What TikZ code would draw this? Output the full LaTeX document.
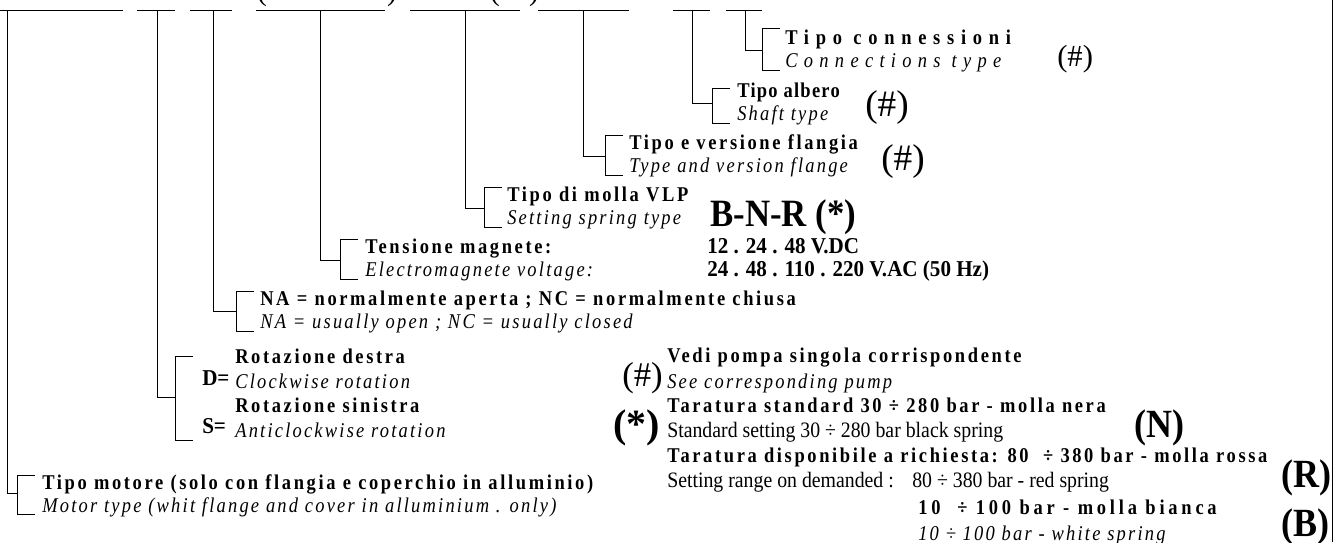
\documentclass[tikz,border=0pt]{standalone}
\usepackage{fontspec}
\setmainfont{Liberation Serif}
\newfontfamily\fsp{Liberation Serif}[LetterSpace=12.5,FakeStretch=0.88]
\newfontfamily\fspw{Liberation Serif}[LetterSpace=32,FakeStretch=0.88]
\newfontfamily\fspn{Liberation Serif}[LetterSpace=6,FakeStretch=0.88]
\newfontfamily\fspm{Liberation Serif}[LetterSpace=18,FakeStretch=0.88]
\newfontfamily\fit{Liberation Serif}[LetterSpace=10.5,FakeStretch=0.88]
\newfontfamily\fitw{Liberation Serif}[LetterSpace=30,FakeStretch=0.88]
\newfontfamily\fcn{Liberation Serif}[FakeStretch=0.9]
\newfontfamily\fvl{Liberation Serif}[FakeStretch=0.93]
\newcommand{\brk}[5]{%
  \draw[ln] (#1,11) |- (#2,#5);
  \draw[ln] (#2+18,#3) -- (#2,#3) -- (#2,#4) -- (#2+18,#4);}
\tikzset{
  ln/.style={draw=black,line width=0.75pt},
  bt/.style={inner sep=0pt,anchor=base west,font=\fsp\bfseries\fontsize{15.75}{18}\selectfont},
  it/.style={inner sep=0pt,anchor=base west,font=\fit\itshape\fontsize{15.75}{18}\selectfont},
  rt/.style={inner sep=0pt,anchor=base west,font=\fcn\fontsize{16.5}{18}\selectfont},
  vt/.style={inner sep=0pt,anchor=base west,font=\fvl\bfseries\fontsize{17}{19}\selectfont},
  hs/.style={inner sep=0pt,anchor=west,font=\fontsize{26}{28}\selectfont},
  bg/.style={inner sep=0pt,anchor=west,font=\fcn\bfseries\fontsize{30}{32}\selectfont},
  tp/.style={inner sep=0pt,anchor=base,font=\fontsize{22}{24}\selectfont},
}
\begin{document}
\begin{tikzpicture}[x=0.75pt,y=-0.75pt]
\useasboundingbox (0,0) rectangle (1344,542);
% top code line
\foreach \a/\b in {0/123,137/175,190/232,256/385,410/520,538/629,673/710,726/762}
  \draw[ln] (\a,11) -- (\b,11);
\begin{scope}
\clip (0,0) rectangle (1344,542);
\node[tp] (p1) at (262,0.5) {(};
\node[tp] (p2) at (392,0.5) {)};
\node[tp] (p3) at (495,0.5) {(};
\node[tp] (p4) at (534,0.5) {)};
\node[it] (w2) at (918,540) {10 ÷ 100 bar - white spring};
\end{scope}
\draw[ln] (1332,0) -- (1332,542);
% brackets
\brk{745}{762}{29}{71}{51}
\brk{692}{712}{88}{123}{103}
\brk{583}{605}{135}{175}{156}
\brk{465}{484}{187}{227}{208}
\brk{320}{340}{239}{279}{260}
\brk{213}{236}{291}{331}{311}
\brk{157}{175}{356}{440}{397}
\brk{7}{17}{475}{514}{493}
% texts
\node[bt,font=\fspw\bfseries\fontsize{15.75}{18}\selectfont] (c1) at (785,45) {Tipo connessioni};
\node[it,font=\fitw\itshape\fontsize{15.75}{18}\selectfont] (c2) at (785,68) {Connections type};
\node[hs,font=\fontsize{23}{25}\selectfont] (c3) at (1057,59) {(\#)};
\node[bt,font=\fspn\bfseries\fontsize{15.75}{18}\selectfont] (a1) at (737,97) {Tipo albero};
\node[it] (a2) at (737,120) {Shaft type};
\node[hs,font=\fontsize{28}{30}\selectfont] (a3) at (865,108) {(\#)};
\node[bt] (f1) at (629,149) {Tipo e versione flangia};
\node[it] (f2) at (629,172) {Type and version flange};
\node[hs,font=\fontsize{28}{30}\selectfont] (f3) at (881,162) {(\#)};
\node[bt] (m1) at (507,201) {Tipo di molla VLP};
\node[it] (m2) at (507,224) {Setting spring type};
\node[vt,font=\fcn\bfseries\fontsize{29}{31}\selectfont] (m3) at (710,226) {B-N-R (*)};
\node[bt] (t1) at (365,253) {Tensione magnete:};
\node[it] (t2) at (365,276) {Electromagnete voltage:};
\node[vt] (t3) at (707,253) {12 . 24 . 48 V.DC};
\node[vt] (t4) at (707,276) {24 . 48 . 110 . 220 V.AC (50 Hz)};
\node[bt] (n1) at (260,305) {NA = normalmente aperta ; NC = normalmente chiusa};
\node[it] (n2) at (260,328) {NA = usually open ; NC = usually closed};
\node[vt] (d0) at (202,385) {D=};
\node[bt] (d1) at (235,363) {Rotazione destra};
\node[it] (d2) at (235,388) {Clockwise rotation};
\node[vt] (s0) at (202,433) {S=};
\node[bt] (s1) at (235,412) {Rotazione sinistra};
\node[it] (s2) at (235,437) {Anticlockwise rotation};
\node[bt] (mo1) at (42,489) {Tipo motore (solo con flangia e coperchio in alluminio)};
\node[it] (mo2) at (42,512) {Motor type (whit flange and cover in alluminium . only)};
% notes
\node[hs] (h0) at (622,378) {(\#)};
\node[bt] (h1) at (667,362) {Vedi pompa singola corrispondente};
\node[it] (h2) at (667,388) {See corresponding pump};
\node[bg,font=\bfseries\fontsize{30}{32}\selectfont] (st0) at (613,428) {(*)};
\node[bt] (st1) at (667,412) {Taratura standard 30 ÷ 280 bar - molla nera};
\node[rt] (st2) at (667,437) {Standard setting 30 ÷ 280 bar black spring};
\node[bg] (N) at (1134,428) {(N)};
\node[bt] (r1) at (667,462) {Taratura disponibile a richiesta: 80 \ ÷ 380 bar - molla rossa};
\node[rt] (r2) at (667,487) {Setting range on demanded :};
\node[rt] (r3) at (912,487) {80 ÷ 380 bar - red spring};
\node[bg] (R) at (1281,478) {(R)};
\node[bt,font=\fspm\bfseries\fontsize{15.75}{18}\selectfont] (w1) at (918,514) {10 \ ÷ 100 bar - molla bianca};
\node[bg] (B) at (1281,527) {(B)};
\end{tikzpicture}
\end{document}
